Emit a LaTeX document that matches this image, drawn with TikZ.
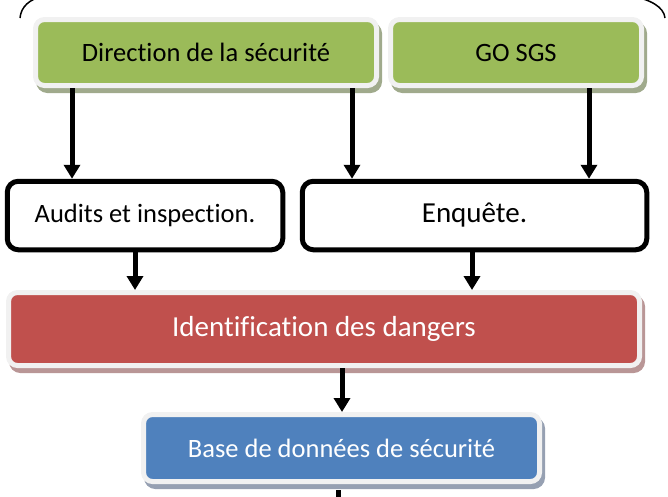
\documentclass[tikz,border=0pt]{standalone}
\usepackage{fontspec}
\setmainfont{Carlito}[Ligatures=NoCommon]
\usetikzlibrary{arrows.meta}

\definecolor{boxgreen}{HTML}{9BBB59}
\definecolor{boxred}{HTML}{C0504D}
\definecolor{boxblue}{HTML}{4F81BD}
\definecolor{framegray}{RGB}{241,241,241}
\definecolor{shgreen}{RGB}{160,170,140}
\definecolor{shred}{RGB}{185,150,150}
\definecolor{shblue}{RGB}{150,160,178}

\tikzset{
  panel/.style={rounded corners=9pt, draw=framegray, line width=5pt,
    inner sep=0pt, align=center,
    preaction={draw=#1, fill=#1, line width=5pt,
      transform canvas={xshift=3pt, yshift=-5pt}}},
  greenpanel/.style={panel=shgreen, fill=boxgreen, text=black,
    font=\fontsize{26.5}{30}\selectfont},
  redpanel/.style={panel=shred, fill=boxred, text=white,
    font=\fontsize{29}{33}\selectfont},
  bluepanel/.style={panel=shblue, fill=boxblue, text=white,
    font=\fontsize{26.5}{30}\selectfont},
  outlinebox/.style={draw=black, line width=5pt, rounded corners=11pt,
    fill=white, inner sep=0pt, minimum height=68.5pt},
  flow/.style={draw=black, line width=5pt,
    -{Triangle[width=16pt, length=14pt]}},
  plainflow/.style={draw=black, line width=5pt},
  bracket/.style={draw=black, line width=1.5pt}
}

\begin{document}
\begin{tikzpicture}[x=1pt, y=-1pt]
  \useasboundingbox (0,0) rectangle (668,496);
  \clip (0,0) rectangle (668,496);

  % curved bracket across the top
  \draw[bracket] (20,18) .. controls (21,7) and (29,-1) .. (44,-4)
    -- (630,-4) .. controls (650,-1) and (664,7) .. (665,18);

  % sources
  \node[greenpanel, minimum width=341pt, minimum height=66pt]
    (dir) at (206,52.5) {Direction de la sécurité};
  \node[greenpanel, minimum width=251pt, minimum height=66pt]
    (gos) at (516,52.5) {GO SGS};

  % collection activities
  \node[outlinebox, minimum width=275.5pt, font=\fontsize{26.5}{30}\selectfont]
    (aud) at (145,215.5) {Audits et inspection.};
  \node[outlinebox, minimum width=344.5pt, font=\fontsize{29}{33}\selectfont]
    (enq) at (474.5,215.5) {Enquête.};

  % identification and storage
  \node[redpanel, minimum width=631pt, minimum height=73pt]
    (idn) at (324,329) {Identification des dangers};
  \node[bluepanel, minimum width=396pt, minimum height=67pt]
    (base) at (341.5,448) {Base de données de sécurité};

  \coordinate (exit) at (338,505);

  % connectors
  \draw[flow] ([xshift=-134pt]dir.south) -- ([xshift=-73pt]aud.north);
  \draw[flow] ([xshift=146pt]dir.south) -- ([xshift=-122.5pt]enq.north);
  \draw[flow] ([xshift=73pt]gos.south) -- ([xshift=114.5pt]enq.north);
  \draw[flow] ([xshift=-10pt]aud.south) -- ([xshift=-189pt]idn.north);
  \draw[flow] ([xshift=-2.5pt]enq.south) -- ([xshift=148pt]idn.north);
  \draw[flow] ([xshift=18pt]idn.south) -- ([xshift=0.5pt]base.north);
  \draw[plainflow] ([xshift=-3.5pt,yshift=-6pt]base.south) -- (exit);
\end{tikzpicture}
\end{document}
